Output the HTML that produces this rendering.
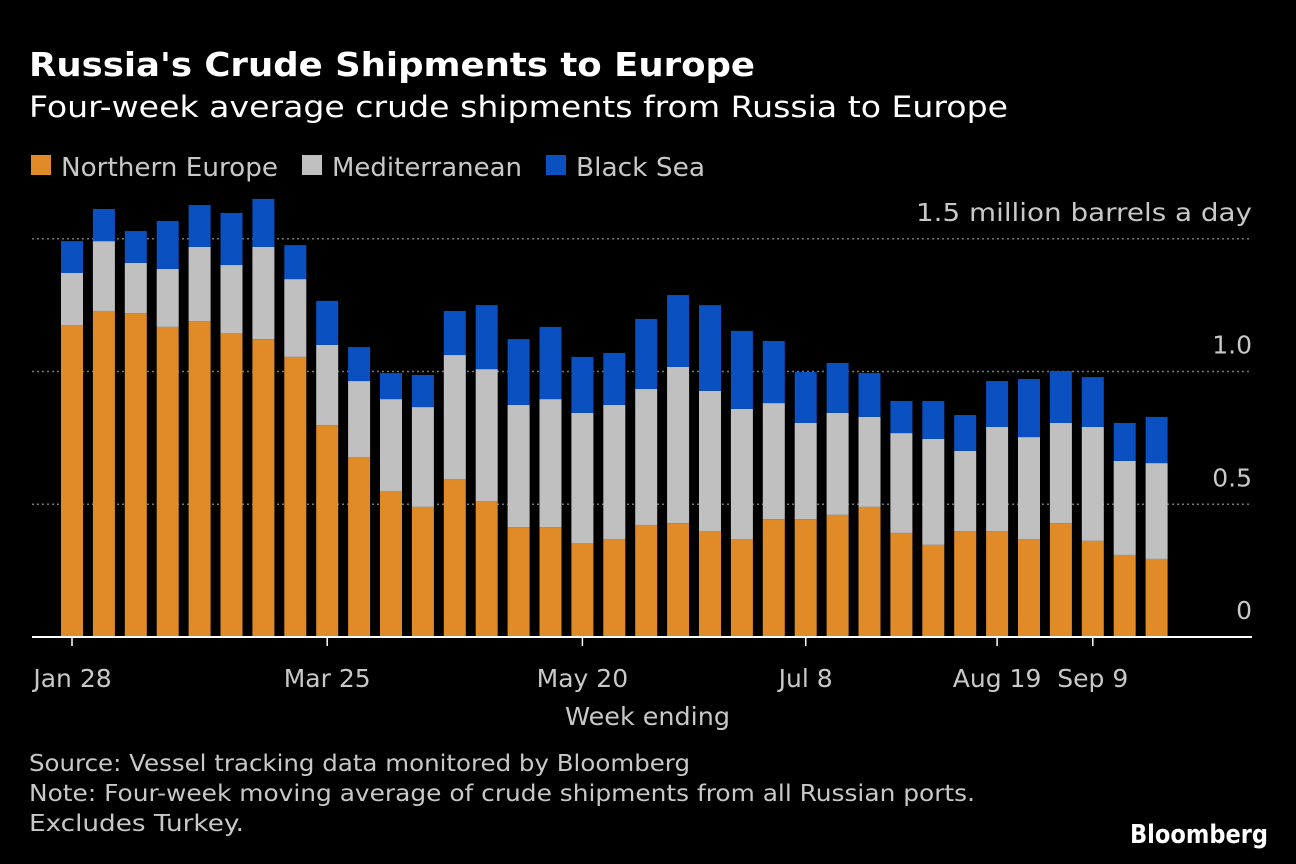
<!DOCTYPE html>
<html><head><meta charset="utf-8">
<style>
body{margin:0;background:#000;width:1296px;height:860px;overflow:hidden;font-family:"DejaVu Sans","Liberation Sans",sans-serif;color:#fff}
svg text{font-family:"DejaVu Sans","Liberation Sans",sans-serif}
</style></head>
<body>
<svg id="c" width="1296" height="860">
<text x="29" y="76" font-size="33" font-weight="bold" fill="#fff" textLength="726" lengthAdjust="spacingAndGlyphs">Russia's Crude Shipments to Europe</text>
<text x="29" y="117" font-size="29" fill="#fff" textLength="979" lengthAdjust="spacingAndGlyphs">Four-week average crude shipments from Russia to Europe</text>
<g>
<rect x="31" y="155" width="20" height="20" fill="#e08a28"/>
<text x="61" y="176" font-size="26" fill="#c8c8c8" textLength="217" lengthAdjust="spacingAndGlyphs">Northern Europe</text>
<rect x="302" y="155" width="20" height="20" fill="#c0c0c0"/>
<text x="332" y="176" font-size="26" fill="#c8c8c8" textLength="190" lengthAdjust="spacingAndGlyphs">Mediterranean</text>
<rect x="546" y="155" width="20" height="20" fill="#0a50c0"/>
<text x="576" y="176" font-size="26" fill="#c8c8c8" textLength="129" lengthAdjust="spacingAndGlyphs">Black Sea</text>
</g>
<g id="grid"></g><g id="bars"></g><g id="axes"></g>
<text x="565" y="725" font-size="25" fill="#c8c8c8" textLength="165" lengthAdjust="spacingAndGlyphs">Week ending</text>
<text x="29" y="771" font-size="23" fill="#c8c8c8" textLength="661" lengthAdjust="spacingAndGlyphs">Source: Vessel tracking data monitored by Bloomberg</text>
<text x="29" y="801" font-size="23" fill="#c8c8c8" textLength="946" lengthAdjust="spacingAndGlyphs">Note: Four-week moving average of crude shipments from all Russian ports.</text>
<text x="29" y="831" font-size="23" fill="#c8c8c8" textLength="215" lengthAdjust="spacingAndGlyphs">Excludes Turkey.</text>
<text x="1130" y="843" font-size="26" font-weight="bold" fill="#fff" textLength="138" lengthAdjust="spacingAndGlyphs">Bloomberg</text>
</svg>
<script>
const northern=[1.175,1.228,1.220,1.168,1.190,1.145,1.122,1.055,0.798,0.678,0.550,0.490,0.595,0.512,0.414,0.414,0.354,0.369,0.422,0.429,0.399,0.369,0.444,0.444,0.460,0.490,0.392,0.347,0.399,0.399,0.369,0.429,0.362,0.309,0.294];
const mediterranean=[0.196,0.263,0.189,0.218,0.279,0.256,0.347,0.293,0.302,0.286,0.346,0.376,0.467,0.497,0.460,0.482,0.490,0.505,0.512,0.588,0.528,0.490,0.437,0.362,0.384,0.339,0.376,0.399,0.302,0.392,0.384,0.377,0.429,0.354,0.361];
const blackSea=[0.120,0.121,0.120,0.181,0.158,0.196,0.181,0.128,0.166,0.128,0.098,0.121,0.166,0.241,0.248,0.272,0.211,0.196,0.264,0.271,0.323,0.294,0.234,0.192,0.188,0.165,0.121,0.143,0.135,0.173,0.219,0.196,0.188,0.143,0.174];
const yTicks=[0,0.5,1.0,1.5];
const yTickLabels=["0","0.5","1.0","1.5 million barrels a day"];
const xTickIndex=[0,8,16,23,29,32];
const xTickLabels=["Jan 28","Mar 25","May 20","Jul 8","Aug 19","Sep 9"];
const NS="http://www.w3.org/2000/svg";
const y0=637,pxPer=265.5,x0=72,pitch=31.9,bw=22;
const yS=v=>y0-v*pxPer, xS=i=>x0+i*pitch;
function mk(t,a,p){const e=document.createElementNS(NS,t);for(const k in a)e.setAttribute(k,a[k]);p.appendChild(e);return e;}
const grid=document.getElementById('grid'),bars=document.getElementById('bars'),axes=document.getElementById('axes');
yTicks.forEach((v,i)=>{
 if(v>0){const l=mk('line',{x1:32,x2:1252,y1:yS(v),y2:yS(v),stroke:'#777','stroke-width':1.5,'stroke-dasharray':'2,3'},grid);
 
 }
 const a={x:1252,y:yS(v)-18,'font-size':25,fill:'#c8c8c8','text-anchor':'end'};
 if(v===1.5){a.textLength=336;a.lengthAdjust='spacingAndGlyphs';}
 const t=mk('text',a,grid);
 t.textContent=yTickLabels[i];
 
 
});
northern.forEach((n,i)=>{
 const m=mediterranean[i],b=blackSea[i],x=xS(i)-bw/2;
 const r1=mk('rect',{x:x,y:yS(n),width:bw,height:n*pxPer,fill:'#e08a28'},bars);
 
 
 const r2=mk('rect',{x:x,y:yS(n+m),width:bw,height:m*pxPer,fill:'#c0c0c0'},bars);
 
 
 const r3=mk('rect',{x:x,y:yS(n+m+b),width:bw,height:b*pxPer,fill:'#0a50c0'},bars);
 
 
});
const ax=mk('line',{x1:32,x2:1252,y1:y0,y2:y0,stroke:'#fff','stroke-width':2},axes);


xTickIndex.forEach((idx,i)=>{
 const tk=mk('line',{x1:xS(idx),x2:xS(idx),y1:y0,y2:y0+9,stroke:'#fff','stroke-width':1.5},axes);
 
 
 let cx=xS(idx);
 if(i===0)cx=72.5;
 const t=mk('text',{x:cx,y:687,'font-size':25,fill:'#c8c8c8','text-anchor':'middle'},axes);
 t.textContent=xTickLabels[i];
 
 
});
</script>
</body></html>
